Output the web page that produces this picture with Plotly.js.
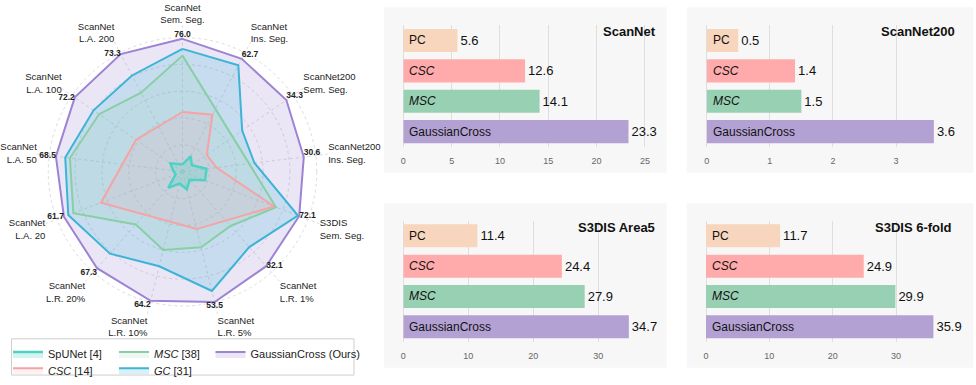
<!DOCTYPE html>
<html>
<head>
<meta charset="utf-8">
<script src="https://cdn.plot.ly/plotly-3.0.1.min.js"></script>
<style>
  html, body { margin: 0; padding: 0; background: #fff; }
  #chart { width: 976px; height: 385px; }
</style>
</head>
<body>
<div id="chart"></div>
<script>
const W = 976, H = 385;

// radar axes, clockwise from the top
const axisNames = [
  'ScanNet<br>Sem. Seg.', 'ScanNet<br>Ins. Seg.', 'ScanNet200<br>Sem. Seg.',
  'ScanNet200<br>Ins. Seg.', 'S3DIS<br>Sem. Seg.', 'ScanNet<br>L.R. 1%',
  'ScanNet<br>L.R. 5%', 'ScanNet<br>L.R. 10%', 'ScanNet<br>L.R. 20%',
  'ScanNet<br>L.A. 20', 'ScanNet<br>L.A. 50', 'ScanNet<br>L.A. 100', 'ScanNet<br>L.A. 200'
];
const oursScores = ['76.0', '62.7', '34.3', '30.6', '72.1', '32.1', '53.5', '64.2', '67.3', '61.7', '68.5', '72.2', '73.3'];

// normalised radii read off the radar (null = not reported, the line skips that axis)
const spunetR = [0.055, 0.13, 0.085, 0.18, 0.18, 0.08, 0.135, 0.09, 0.16, 0.055, 0.07, 0.11, 0.065];
const cscR    = [0.445, 0.48, 0.22, 0.255, 0.73, null, 0.44, null, null, 0.65, null, 0.42, null];
const mscR    = [0.865, null, null, null, 0.745, 0.54, 0.58, 0.60, 0.525, 0.87, 0.845, 0.755, 0.665];
const gcR     = [0.915, 0.895, 0.54, 0.54, 0.92, 0.75, 0.915, 0.725, 0.815, 0.91, 0.88, 0.805, 0.81];
const oursR   = [0.99, 0.95, 0.94, 0.91, 0.93, 0.94, 1.0, 0.99, 0.96, 0.945, 0.95, 0.975, 0.99];

// where each score sits relative to its vertex
const scorePos = ['top center', 'top right', 'top right', 'top right', 'middle right', 'middle right',
  'bottom center', 'bottom left', 'bottom left', 'middle left', 'middle left', 'middle left', 'middle left'];

// bar panels
const barMethods = ['PC', 'CSC', 'MSC', 'GaussianCross'];
const barNames = ['PC', '<i>CSC</i>', '<i>MSC</i>', 'GaussianCross'];
const barColors = ['#f7d6bd', '#ffabab', '#98d0b4', '#b4a1d4'];
const scannetGain = [5.6, 12.6, 14.1, 23.3];
const scannet200Gain = [0.5, 1.4, 1.5, 3.6];
const s3disArea5Gain = [11.4, 24.4, 27.9, 34.7];
const s3dis6foldGain = [11.7, 24.9, 29.9, 35.9];
const panelTitles = ['ScanNet', 'ScanNet200', 'S3DIS Area5', 'S3DIS 6-fold'];

const px = v => v / W;
const py = v => 1 - v / H;

function closed(arr) { return arr.concat([arr[0]]); }

function radarTrace(name, r, color, fill, legend, width) {
  return {
    type: 'scatterpolar',
    r: closed(r),
    theta: closed(axisNames),
    mode: 'lines',
    connectgaps: true,
    name: name,
    line: { color: color, width: width || 2 },
    fill: 'toself',
    fillcolor: fill,
    legend: legend,
    hoverinfo: 'skip'
  };
}

const data = [
  radarTrace('GaussianCross (Ours)', oursR, '#9d83d3', 'rgba(157,131,211,0.2)', 'legend3'),
  radarTrace('<i>GC</i> [31]', gcR, '#3cb4d6', 'rgba(60,180,214,0.2)', 'legend2'),
  radarTrace('<i>MSC</i> [38]', mscR, '#88cfa6', 'rgba(136,207,166,0.15)', 'legend'),
  radarTrace('<i>CSC</i> [14]', cscR, '#f5a3a5', 'rgba(245,163,165,0.15)', 'legend2'),
  radarTrace('SpUNet [4]', spunetR, '#4fd2c4', 'rgba(79,210,196,0.25)', 'legend', 2.5),
  {
    // GaussianCross scores written next to its own vertices
    type: 'scatterpolar',
    r: oursR,
    theta: axisNames,
    mode: 'text',
    text: oursScores.map(s => '<b>' + s + '</b>'),
    textposition: scorePos,
    textfont: { size: 8.5, color: '#222' },
    cliponaxis: false,
    showlegend: false,
    hoverinfo: 'skip'
  }
];
// SpUNet first, then MSC in the first legend row
data[4].legendrank = 1;
data[2].legendrank = 2;
data[3].legendrank = 1;
data[1].legendrank = 2;

// outer grid circle (r = 1) sits 136 px from the centre; the axis runs a bit further
const rMax = 1.09, cx = 182.5, cy = 174, R = 136 * rMax;

const legendBase = {
  orientation: 'h', xanchor: 'left', yanchor: 'top',
  font: { size: 11 }, bgcolor: 'rgba(0,0,0,0)'
};

const panels = [scannetGain, scannet200Gain, s3disArea5Gain, s3dis6foldGain];
const layout = {
  width: W, height: H,
  margin: { l: 0, r: 0, t: 0, b: 0 },
  paper_bgcolor: '#fff',
  plot_bgcolor: 'rgba(0,0,0,0)',
  font: { family: 'Liberation Sans, Arial, sans-serif', color: '#222' },
  showlegend: true,
  polar: {
    domain: { x: [px(cx - R), px(cx + R)], y: [py(cy + R), py(cy - R)] },
    bgcolor: 'rgba(0,0,0,0)',
    radialaxis: {
      range: [0, rMax], tickvals: [0.2, 0.4, 0.6, 0.8, 1.0],
      showticklabels: false, ticks: '', showline: false,
      gridcolor: '#dcdcdc', griddash: 'dot'
    },
    angularaxis: {
      direction: 'clockwise', rotation: 90, showline: false, ticks: '',
      gridcolor: '#dcdcdc', griddash: 'dot',
      tickfont: { size: 9.5, color: '#222' }
    }
  },
  legend: Object.assign({}, legendBase, { x: px(8), y: py(344), entrywidth: 61 }),
  legend2: Object.assign({}, legendBase, { x: px(8), y: py(360.5), entrywidth: 61 }),
  legend3: Object.assign({}, legendBase, { x: px(210.5), y: py(344) }),
  shapes: [
    { type: 'rect', xref: 'paper', yref: 'paper', x0: px(11.5), x1: px(354), y0: py(380), y1: py(343.3),
      line: { color: '#cfcfcf', width: 1 }, fillcolor: 'rgba(0,0,0,0)', layer: 'below' },
    { type: 'rect', xref: 'paper', yref: 'paper', x0: px(384), x1: px(666.7), y0: py(175), y1: py(7.3),
      line: { width: 0 }, fillcolor: '#f7f7f7', layer: 'below' },
    { type: 'rect', xref: 'paper', yref: 'paper', x0: px(686.7), x1: px(973.3), y0: py(175), y1: py(7.3),
      line: { width: 0 }, fillcolor: '#f7f7f7', layer: 'below' },
    { type: 'rect', xref: 'paper', yref: 'paper', x0: px(384), x1: px(666.7), y0: py(372.7), y1: py(206),
      line: { width: 0 }, fillcolor: '#f7f7f7', layer: 'below' },
    { type: 'rect', xref: 'paper', yref: 'paper', x0: px(686.7), x1: px(973.3), y0: py(372.7), y1: py(206),
      line: { width: 0 }, fillcolor: '#f7f7f7', layer: 'below' }
  ],
  annotations: []
};

// panel placement: [x of 0, x of domain end, range max, y top, y bottom, ticks]
const panelGeom = [
  [403.3, 657.5, 26.3, 25.6, 148.7, [0, 5, 10, 15, 20, 25]],
  [706.7, 956.6, 3.96, 25.6, 148.7, [0, 1, 2, 3]],
  [403.3, 656.8, 39.0, 223.6, 346.4, [0, 10, 20, 30]],
  [706.0, 954.3, 39.2, 223.6, 346.4, [0, 10, 20, 30]]
];

panels.forEach((vals, i) => {
  const n = i + 1;
  const xa = 'x' + n, ya = 'y' + n;
  const g = panelGeom[i];
  data.push({
    type: 'bar', orientation: 'h',
    x: vals, y: barMethods,
    xaxis: xa, yaxis: ya,
    width: 0.76,
    marker: { color: barColors, line: { width: 0 } },
    text: vals.map(v => v.toFixed(1)),
    textposition: 'outside',
    textfont: { size: 13, color: '#111' },
    cliponaxis: false,
    showlegend: false,
    hoverinfo: 'skip'
  });
  layout['xaxis' + n] = {
    domain: [px(g[0]), px(g[1])], range: [0, g[2]], anchor: ya,
    tickvals: g[5], ticks: 'outside', ticklen: 5, tickcolor: 'rgba(0,0,0,0)',
    tickfont: { size: 9, color: '#666' },
    showgrid: true, gridcolor: '#dedede', gridwidth: 1,
    zeroline: true, zerolinecolor: '#dedede', zerolinewidth: 1,
    showline: false, fixedrange: true
  };
  layout['yaxis' + n] = {
    domain: [py(g[4]), py(g[3])], type: 'category', range: [3.5, -0.5],
    anchor: xa, showticklabels: false, showgrid: false, zeroline: false, showline: false
  };
  barMethods.forEach((m, j) => {
    layout.annotations.push({
      xref: xa, yref: ya, x: 0, y: m, text: barNames[j],
      xanchor: 'left', yanchor: 'middle', xshift: 4, showarrow: false,
      font: { size: 12, color: '#111' }
    });
  });
  layout.annotations.push({
    xref: xa + ' domain', yref: ya + ' domain', x: 1, y: 1,
    xanchor: 'right', yanchor: 'top', yshift: 3,
    text: '<b>' + panelTitles[i] + '</b>', showarrow: false,
    font: { size: 13, color: '#111' }
  });
});

Plotly.newPlot('chart', data, layout, { displayModeBar: false, staticPlot: true });
</script>
</body>
</html>
